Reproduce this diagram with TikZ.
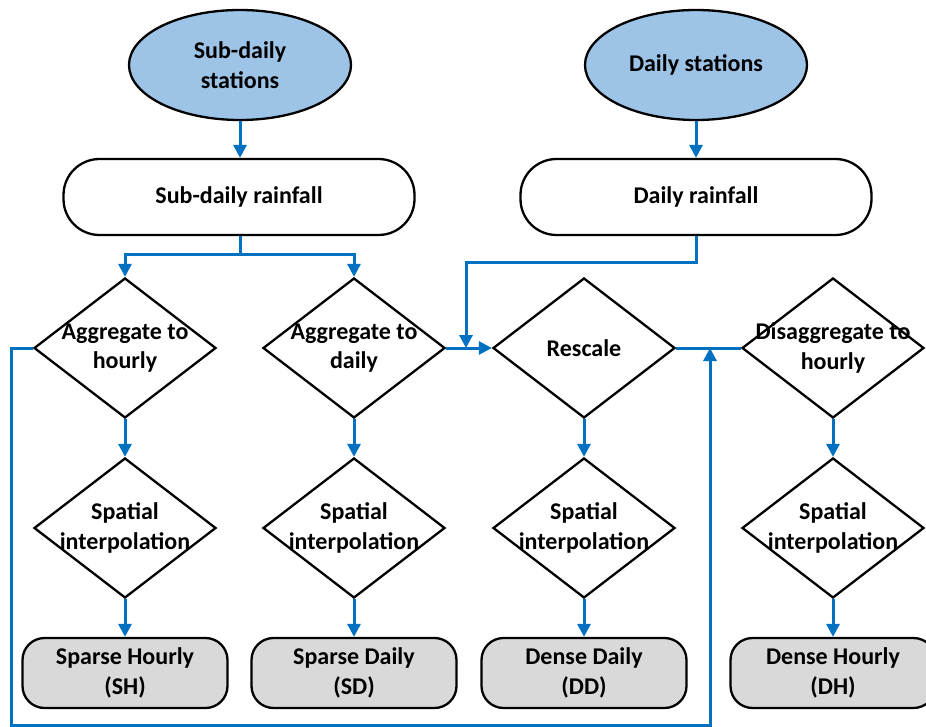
\documentclass[tikz,border=0pt]{standalone}
\usepackage{fontspec}
\setmainfont{Carlito}
\usetikzlibrary{shapes.geometric,arrows.meta}
\definecolor{conblue}{RGB}{0,112,192}
\definecolor{ellblue}{RGB}{157,195,230}
\definecolor{boxgray}{RGB}{217,217,217}
\begin{document}
\begin{tikzpicture}[x=1pt,y=-1pt,
  lbl/.style={font=\fontsize{24}{29.5}\selectfont\bfseries, align=center, inner sep=0},
  ell/.style={ellipse, draw, line width=2.3pt, fill=ellblue, minimum width=222pt, minimum height=110pt, inner sep=0},
  rbox/.style={draw, line width=2.3pt, rounded corners=36pt, minimum width=351pt, minimum height=76pt, inner sep=0},
  dia/.style={diamond, draw, line width=2.3pt, minimum width=182pt, minimum height=140pt, inner sep=0},
  obox/.style={draw, line width=2.3pt, fill=boxgray, rounded corners=22pt, minimum width=205pt, minimum height=70pt, inner sep=0},
  conn/.style={draw=conblue, line width=3pt, -{Triangle[length=13pt,width=13pt]}},
  plainconn/.style={draw=conblue, line width=3pt}]
\useasboundingbox (0,0) rectangle (926,727);
% top nodes
\node[ell] (e1) at (240,65) {};
\node[lbl] (e1t) at (e1) {Sub-daily\\stations};
\node[ell] (e2) at (696,65) {};
\node[lbl] (e2t) at (e2) {Daily stations};
\node[rbox] (b1) at (239,197) {};
\node[lbl] (b1t) at (b1) {Sub-daily rainfall};
\node[rbox] (b2) at (696,197) {};
\node[lbl] (b2t) at (b2) {Daily rainfall};
% diamonds row 1
\node[dia] (d1) at (125,348) {};
\node[lbl] (d1t) at (d1) {Aggregate to\\hourly};
\node[dia] (d2) at (354,348) {};
\node[lbl] (d2t) at (d2) {Aggregate to\\daily};
\node[dia] (d3) at (584,348) {};
\node[lbl] (d3t) at (d3) {Rescale};
\node[dia] (d4) at (833,348) {};
\node[lbl] (d4t) at (d4) {Disaggregate to\\hourly};
% diamonds row 2
\node[dia] (s1) at (125,528) {};
\node[lbl] (s1t) at (s1) {Spatial\\interpolation};
\node[dia] (s2) at (354,528) {};
\node[lbl] (s2t) at (s2) {Spatial\\interpolation};
\node[dia] (s3) at (584,528) {};
\node[lbl] (s3t) at (s3) {Spatial\\interpolation};
\node[dia] (s4) at (833,528) {};
\node[lbl] (s4t) at (s4) {Spatial\\interpolation};
% outputs
\node[obox] (r1) at (125,673) {};
\node[lbl] (r1t) at (r1) {Sparse Hourly\\(SH)};
\node[obox] (r2) at (354,673) {};
\node[lbl] (r2t) at (r2) {Sparse Daily\\(SD)};
\node[obox] (r3) at (584,673) {};
\node[lbl] (r3t) at (r3) {Dense Daily\\(DD)};
\node[obox] (r4) at (833,673) {};
\node[lbl] (r4t) at (r4) {Dense Hourly\\(DH)};
% junctions
\coordinate (j1) at (240,255);
\coordinate (j2) at (466,263);
\coordinate (c1) at (11,725);
\coordinate (c2) at (710,725);
% connectors
\draw[conn] (e1.south) -- (e1.south |- b1.north);
\draw[conn] (e2.south) -- (e2.south |- b2.north);
\draw[conn] (b1.south -| j1) -- (j1) -| (d1.north);
\draw[conn] (j1) -| (d2.north);
\draw[conn] (d2.east) -- (d3.west);
\draw[conn] (b2.south) |- (j2) -- (j2 |- d3.west);
\draw[plainconn] (d3.east) -- (d4.west);
\draw[conn] (d1.west) -| (c1) -- (c2) -- (c2 |- d3.east);
\foreach \a/\b in {d1/s1,d2/s2,d3/s3,d4/s4,s1/r1,s2/r2,s3/r3,s4/r4}
  \draw[conn] (\a.south) -- (\b.north);
\end{tikzpicture}
\end{document}
